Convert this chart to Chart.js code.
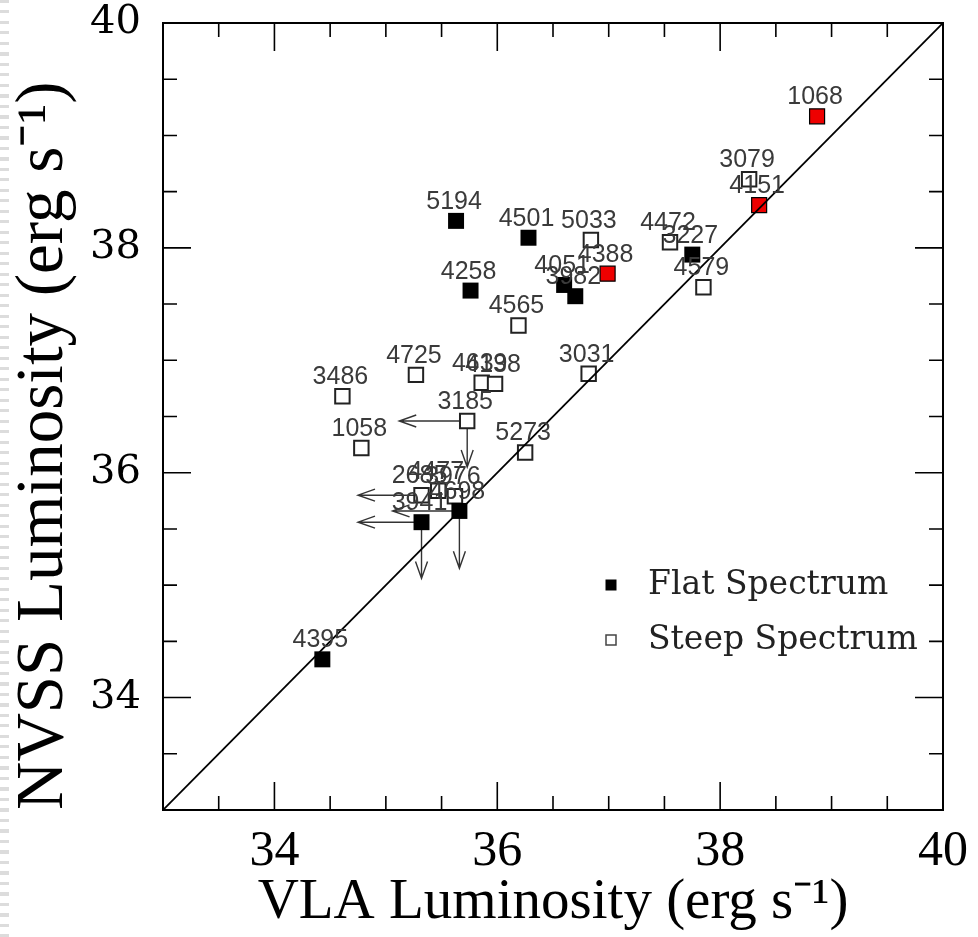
<!DOCTYPE html>
<html>
<head>
<meta charset="utf-8">
<script src="https://cdn.jsdelivr.net/npm/chart.js@4.4.1/dist/chart.umd.min.js"></script>
<style>
  html, body { margin: 0; padding: 0; background: #fff; }
  #wrap { position: relative; width: 978px; height: 937px; }
  #edge { position: absolute; left: 0; top: 0; width: 9px; height: 937px;
          background: repeating-linear-gradient(to bottom, #dcdcdc 0 3px, #fff 3px 10.5px); }
  canvas { position: absolute; left: 0; top: 0; }
</style>
</head>
<body>
<div id="wrap"><div id="edge"></div><canvas id="c" width="978" height="937"></canvas></div>
<script>
// Radio luminosities, log (erg s^-1): VLA (x) vs NVSS (y)

// Flat-spectrum sources
const flatNames = ["5194", "4501", "3227", "4051", "3982", "4258", "4395", "3941", "4698"];
const flatVLA   = [35.63, 36.28, 37.75, 36.60, 36.70, 35.76, 34.43, 35.32, 35.66];
const flatNVSS  = [38.24, 38.09, 37.94, 37.67, 37.57, 37.62, 34.34, 35.56, 35.66];

// Steep-spectrum sources
const steepNames = ["3079", "5033", "4472", "4579", "4565", "3031", "4725", "3486",
                    "4639", "4138", "3185", "1058", "5273", "2685", "4477", "3976"];
const steepVLA   = [38.26, 36.84, 37.55, 37.85, 36.19, 36.82, 35.27, 34.61,
                    35.86, 35.98, 35.73, 34.78, 36.25, 35.32, 35.47, 35.62];
const steepNVSS  = [38.61, 38.07, 38.05, 37.65, 37.31, 36.88, 36.87, 36.68,
                    36.80, 36.79, 36.46, 36.22, 36.18, 35.80, 35.84, 35.79];

// Highlighted sources
const redNames = ["1068", "4151", "4388"];
const redVLA   = [38.87, 38.35, 36.99];
const redNVSS  = [39.17, 38.38, 37.77];

// Upper limits: arrows toward lower VLA luminosity
const leftLimitNames = ["3185", "2685", "3941", "4698"];
const leftLimitTo    = [35.12, 34.75, 34.75, 35.06];
// Upper limits: arrows toward lower NVSS luminosity
const downLimitNames = ["3185", "3941", "4698"];
const downLimitTo    = [36.05, 35.06, 35.15];

// Equality line
const diagX = [33, 40];
const diagY = [33, 40];

// Axis range and ticks
const axisMin = 33, axisMax = 40;
const majorTicks = [34, 36, 38, 40];
const minorStep = 0.5;

const pts = (xs, ys) => xs.map((x, i) => ({ x: x, y: ys[i] }));

// Look up a source's position from any of the groups
function findSource(name) {
  const groups = [[flatNames, flatVLA, flatNVSS], [steepNames, steepVLA, steepNVSS], [redNames, redVLA, redNVSS]];
  for (const [n, xs, ys] of groups) {
    const i = n.indexOf(name);
    if (i >= 0) return { x: xs[i], y: ys[i] };
  }
  return null;
}

function drawArrow(ctx, x0, y0, x1, y1) {
  const a = Math.atan2(y1 - y0, x1 - x0);
  const hl = 17, hw = 6;
  ctx.beginPath();
  ctx.moveTo(x0, y0);
  ctx.lineTo(x1, y1);
  ctx.moveTo(x1 - hl * Math.cos(a) - hw * Math.sin(a), y1 - hl * Math.sin(a) + hw * Math.cos(a));
  ctx.lineTo(x1, y1);
  ctx.lineTo(x1 - hl * Math.cos(a) + hw * Math.sin(a), y1 - hl * Math.sin(a) - hw * Math.cos(a));
  ctx.stroke();
}

const decor = {
  id: 'decor',
  beforeDatasetsDraw(chart) {
    const { ctx, scales: { x, y } } = chart;
    ctx.save();
    ctx.strokeStyle = '#333';
    ctx.lineWidth = 1.4;
    leftLimitNames.forEach((n, i) => {
      const s = findSource(n);
      drawArrow(ctx, x.getPixelForValue(s.x), y.getPixelForValue(s.y),
                x.getPixelForValue(leftLimitTo[i]), y.getPixelForValue(s.y));
    });
    downLimitNames.forEach((n, i) => {
      const s = findSource(n);
      drawArrow(ctx, x.getPixelForValue(s.x), y.getPixelForValue(s.y),
                x.getPixelForValue(s.x), y.getPixelForValue(downLimitTo[i]));
    });
    ctx.restore();
  },
  afterDatasetsDraw(chart) {
    const { ctx, chartArea: ca, scales: { x, y } } = chart;
    ctx.save();
    // frame
    ctx.strokeStyle = '#000';
    ctx.lineWidth = 2;
    ctx.strokeRect(ca.left, ca.top, ca.right - ca.left, ca.bottom - ca.top);
    // inward ticks on all four sides
    ctx.lineWidth = 1.6;
    ctx.beginPath();
    for (let v = axisMin + minorStep; v < axisMax - 1e-9; v += minorStep) {
      const major = Math.abs(v - Math.round(v)) < 1e-9 && Math.round(v) % 2 === 0;
      const len = major ? 28 : 14;
      const px = x.getPixelForValue(v);
      const py = y.getPixelForValue(v);
      ctx.moveTo(px, ca.bottom); ctx.lineTo(px, ca.bottom - len);
      ctx.moveTo(px, ca.top);    ctx.lineTo(px, ca.top + len);
      ctx.moveTo(ca.left, py);   ctx.lineTo(ca.left + len, py);
      ctx.moveTo(ca.right, py);  ctx.lineTo(ca.right - len, py);
    }
    ctx.stroke();

    // source labels
    ctx.fillStyle = '#3a3a3a';
    ctx.font = '25px "Liberation Sans", Arial, sans-serif';
    ctx.textAlign = 'center';
    ctx.textBaseline = 'alphabetic';
    const groups = [[1, flatNames], [2, steepNames], [3, redNames]];
    for (const [di, names] of groups) {
      const meta = chart.getDatasetMeta(di);
      meta.data.forEach((el, i) => {
        ctx.fillText(names[i], el.x - 2, el.y - 12);
      });
    }

    // legend
    const lx = ca.left + 448, ly1 = ca.top + 562, ly2 = ca.top + 617;
    ctx.fillStyle = '#000';
    ctx.fillRect(lx - 5.5, ly1 - 5.5, 11, 11);
    ctx.strokeStyle = '#444';
    ctx.lineWidth = 1.5;
    ctx.strokeRect(lx - 5, ly2 - 5, 10, 10);
    ctx.fillStyle = '#222';
    ctx.font = '33px "DejaVu Serif", serif';
    ctx.textAlign = 'left';
    ctx.textBaseline = 'middle';
    ctx.fillText('Flat Spectrum', lx + 37, ly1);
    ctx.fillText('Steep Spectrum', lx + 37, ly2);
    ctx.restore();
  }
};

const setTicks = (s) => { s.ticks = majorTicks.map(v => ({ value: v })); };

new Chart(document.getElementById('c'), {
  type: 'scatter',
  data: {
    datasets: [
      {
        type: 'line', label: 'L(NVSS) = L(VLA)', data: pts(diagX, diagY),
        borderColor: '#000', borderWidth: 1.8, pointRadius: 0, fill: false
      },
      {
        label: 'Flat Spectrum', data: pts(flatVLA, flatNVSS),
        pointStyle: 'rect', pointRadius: 11.3, backgroundColor: '#000', borderColor: '#000', borderWidth: 0
      },
      {
        label: 'Steep Spectrum', data: pts(steepVLA, steepNVSS),
        pointStyle: 'rect', pointRadius: 10.2, backgroundColor: '#fff', borderColor: '#222', borderWidth: 2
      },
      {
        label: 'Highlighted', data: pts(redVLA, redNVSS),
        pointStyle: 'rect', pointRadius: 10.6, backgroundColor: '#ee0000', borderColor: '#000', borderWidth: 1.2
      }
    ]
  },
  options: {
    responsive: false,
    animation: false,
    events: [],
    layout: { padding: { top: 23, right: 35, left: 0, bottom: 0 } },
    plugins: { legend: { display: false }, tooltip: { enabled: false } },
    scales: {
      x: {
        type: 'linear', min: axisMin, max: axisMax,
        afterBuildTicks: setTicks,
        afterFit: (s) => { s.height = 127; s.paddingLeft = 0; s.paddingRight = 0; },
        grid: { display: false, drawTicks: false },
        border: { display: false },
        ticks: { color: '#000', padding: 12, font: { family: '"Liberation Serif", serif', size: 50 } },
        title: {
          display: true, text: 'VLA Luminosity (erg s\u207B\u00B9)', color: '#000',
          font: { family: '"Liberation Serif", serif', size: 57 }, padding: { top: 0, bottom: 0 }
        }
      },
      y: {
        type: 'linear', min: axisMin, max: axisMax,
        afterBuildTicks: setTicks,
        afterFit: (s) => { s.width = 163; s.paddingTop = 0; s.paddingBottom = 0; },
        grid: { display: false, drawTicks: false },
        border: { display: false },
        ticks: { color: '#000', padding: 22, font: { family: '"DejaVu Serif", serif', size: 40 } },
        title: {
          display: true, align: 'start', text: 'NVSS Luminosity (erg s\u207B\u00B9)', color: '#000',
          font: { family: '"Liberation Serif", serif', size: 67 }, padding: { top: 4, bottom: 0 }
        }
      }
    }
  },
  plugins: [decor]
});
</script>
</body>
</html>
